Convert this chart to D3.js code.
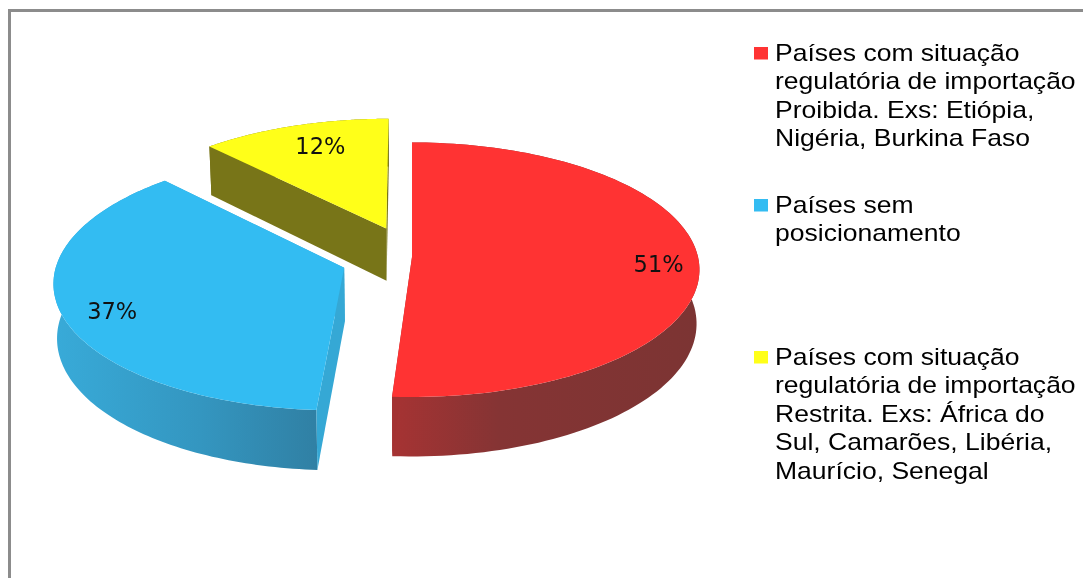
<!DOCTYPE html>
<html lang="pt">
<head>
    <meta charset="UTF-8">
    <title>Situação regulatória de importação</title>
    <script src="https://d3js.org/d3.v7.min.js"></script>
    <style>
        html, body { margin: 0; padding: 0; background: #fff; overflow: hidden; }
        svg { display: block; filter: blur(0.4px); }
    </style>
</head>
<body>
    <svg width="1083" height="578"></svg>

    <script>
        // dados
        let categories = ["Proibida", "Sem posicionamento", "Restrita"];
        let values = [51, 37, 12];
        let labels = ["51%", "37%", "12%"];
        let explode = [0, 0.25, 0.25];
        let legendLines = [
            ["Países com situação", "regulatória de importação", "Proibida. Exs: Etiópia,", "Nigéria, Burkina Faso"],
            ["Países sem", "posicionamento"],
            ["Países com situação", "regulatória de importação", "Restrita. Exs: África do", "Sul, Camarões, Libéria,", "Maurício, Senegal"]
        ];

        // estilos
        let topColors = ["#ff3333", "#33bcf2", "#ffff19"];
        let edgeColors = ["#a33232", "#35a8d5", "#787518"];
        let wallStops = [
            [[0, "#a63333"], [0.35, "#853434"], [1, "#7c3433"]],
            [[0, "#38aad8"], [0.55, "#3496c0"], [1, "#3080a4"]],
            [[0, "#787518"], [1, "#787518"]]
        ];

        let width = 1083, height = 578;
        let cx = 412, cy = 257;
        let rx = 286, ry = 126, depth = 53.5;
        let persp = 0.1, bottomScale = 0.99;

        let svg = d3.select("svg");
        let defs = svg.append("defs");

        // moldura
        svg.append("path")
            .attr("d", `M9.5,${height} V10.5 H${width}`)
            .attr("fill", "none")
            .attr("stroke", "#8c8c8c")
            .attr("stroke-width", 3);

        let pie = d3.pie().sort(null).value(d => d);
        let arcs = pie(values);

        // projecao em perspectiva do disco (X,Y) para a tela
        function project(X, Y, bottom) {
            let k = 1 / (1 - persp * Y);
            let s = bottom ? bottomScale : 1;
            return [
                cx + rx * X * k * s,
                cy + (ry * Y + (bottom ? depth : 0)) * k
            ];
        }

        function sliceCenter(d, i) {
            let mid = (d.startAngle + d.endAngle) / 2;
            return [Math.sin(mid) * explode[i], -Math.cos(mid) * explode[i]];
        }

        function rimPoint(d, i, a, r, bottom) {
            let c = sliceCenter(d, i);
            return project(c[0] + Math.sin(a) * r, c[1] - Math.cos(a) * r, bottom);
        }

        let line = d3.line();

        function rim(d, i, bottom) {
            let angle = d3.scaleLinear().domain([0, 120]).range([d.startAngle, d.endAngle]);
            return d3.range(121).map(t => rimPoint(d, i, angle(t), 1, bottom));
        }

        // desenha de tras para frente
        let order = [2, 1, 0];

        order.forEach(i => {
            let d = arcs[i];
            let g = svg.append("g").attr("class", "slice " + categories[i]);

            let topRim = rim(d, i, false);
            let bottomRim = rim(d, i, true);
            let xExtent = d3.extent(bottomRim, p => p[0]);

            let grad = defs.append("linearGradient")
                .attr("id", "wall" + i)
                .attr("gradientUnits", "userSpaceOnUse")
                .attr("x1", xExtent[0]).attr("x2", xExtent[1])
                .attr("y1", 0).attr("y2", 0);
            wallStops[i].forEach(s => grad.append("stop").attr("offset", s[0]).attr("stop-color", s[1]));

            // parede externa
            g.append("path")
                .attr("d", line(topRim.concat(bottomRim.slice().reverse())) + "Z")
                .attr("fill", `url(#wall${i})`);

            // paredes radiais
            [d.startAngle, d.endAngle].forEach(a => {
                g.append("path")
                    .attr("d", line([
                        rimPoint(d, i, a, 0, false),
                        rimPoint(d, i, a, 1, false),
                        rimPoint(d, i, a, 1, true),
                        rimPoint(d, i, a, 0, true)
                    ]) + "Z")
                    .attr("fill", edgeColors[i]);
            });

            // face de cima
            g.append("path")
                .attr("d", line([rimPoint(d, i, 0, 0, false)].concat(topRim)) + "Z")
                .attr("fill", topColors[i]);
        });

        // rotulos de porcentagem
        let labelRadius = [0.85, 0.81, 0.72];
        let labelNudge = [[3, 4], [-4, 7], [2, -7]];
        let labelPos = (d, i) => rimPoint(d, i, (d.startAngle + d.endAngle) / 2, labelRadius[i], false);
        svg.selectAll(".pct")
            .data(arcs)
            .enter().append("text")
            .attr("class", "pct")
            .attr("x", (d, i) => labelPos(d, i)[0] + labelNudge[i][0])
            .attr("y", (d, i) => labelPos(d, i)[1] + 8 + labelNudge[i][1])
            .attr("text-anchor", "middle")
            .attr("font-family", "'DejaVu Sans', sans-serif")
            .attr("font-size", 22.5)
            .attr("fill", "#111")
            .text((d, i) => labels[i]);

        // legenda
        let legendTop = [61, 213, 365];
        let legendStep = 28.4;
        let legendStretch = 1.105;
        let legend = svg.selectAll(".legend")
            .data(legendLines)
            .enter().append("g")
            .attr("class", "legend")
            .attr("transform", (d, i) => `translate(0,${legendTop[i]})`);

        legend.append("rect")
            .attr("x", 754)
            .attr("y", -14)
            .attr("width", 14)
            .attr("height", 12.5)
            .attr("fill", (d, i) => topColors[i]);

        legend.selectAll("text")
            .data(d => d)
            .enter().append("text")
            .attr("transform", (d, i) => `translate(775,${i * legendStep}) scale(${legendStretch},1)`)
            .attr("font-family", "'Liberation Sans', Arial, sans-serif")
            .attr("font-size", 24)
            .attr("fill", "#000")
            .text(d => d);
    </script>
</body>
</html>
